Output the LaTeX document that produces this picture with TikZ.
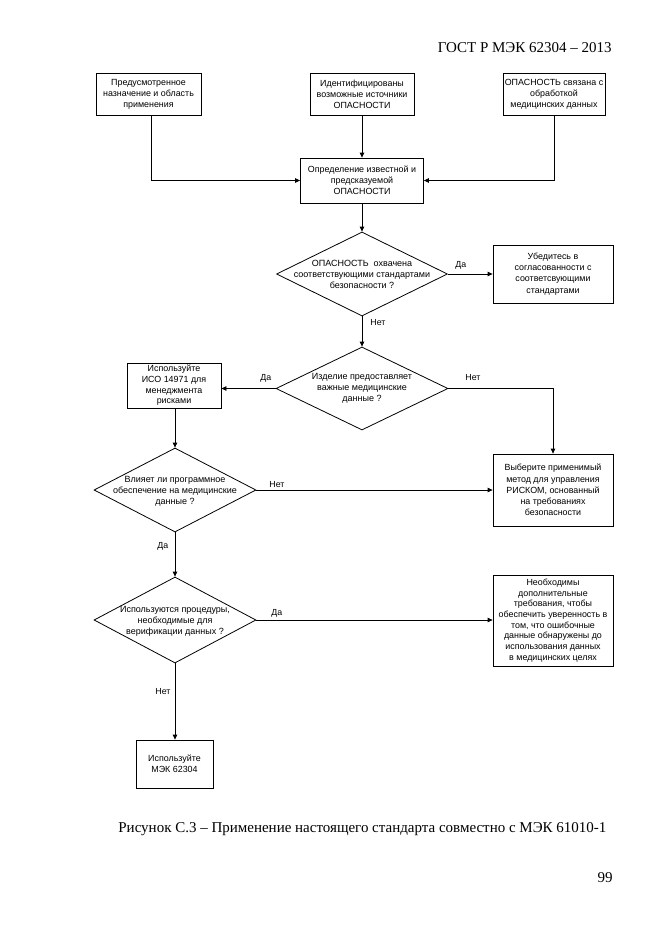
\documentclass[tikz,border=0pt]{standalone}
\usepackage{fontspec}
\setmainfont{Liberation Serif}
\newfontfamily\arialf{Liberation Sans}
\usetikzlibrary{arrows.meta,shapes.geometric}
\begin{document}
\begin{tikzpicture}[x=1pt,y=-1pt,
  every path/.style={line width=0.8pt},
  fbox/.style={draw, line width=0.8pt, align=center, inner sep=1pt,
    font=\arialf\fontsize{8.9}{11.2}\selectfont},
  diam/.style={draw, line width=0.8pt, diamond, inner sep=0pt},
  dtext/.style={align=center, inner sep=0pt, font=\arialf\fontsize{9}{11}\selectfont},
  lbl/.style={inner sep=0pt, font=\arialf\fontsize{8.8}{10}\selectfont},
  conn/.style={-{Triangle[length=5pt,width=4.5pt]}, line width=0.8pt},
  serift/.style={inner sep=0pt, font=\fontsize{15}{18}\selectfont}]
\useasboundingbox (0,0) rectangle (661,935);
\fill[white] (0,0) rectangle (661,935);

% header, caption, page number
\node[serift, anchor=base east] (hdr) at (612,52) {ГОСТ Р МЭК 62304 – 2013};
\node[serift, anchor=base west] (cap) at (118,832) {Рисунок С.3 – Применение настоящего стандарта совместно с МЭК 61010-1};
\node[serift, anchor=base east] (pg) at (613,882) {99};

% top boxes
\node[fbox, minimum width=105, minimum height=42] (b1) at (148.5,94.5) {Предусмотренное\\назначение и область\\применения};
\node[fbox, minimum width=104, minimum height=42] (b2) at (362,94.5) {Идентифицированы\\возможные источники\\ОПАСНОСТИ};
\node[fbox, minimum width=102, minimum height=42] (b3) at (554,94.5) {ОПАСНОСТЬ связана с\\обработкой\\медицинских данных};
\node[fbox, minimum width=123, minimum height=45] (bc) at (362,180.5) {Определение известной и\\предсказуемой\\ОПАСНОСТИ};

% decision 1
\node[diam, minimum width=171, minimum height=84] (d1) at (362,274) {};
\node[dtext] (t1) at (362,274.5) {ОПАСНОСТЬ\ \ охвачена\\соответствующими стандартами\\безопасности ?};
\node[fbox, minimum width=120, minimum height=58] (bu) at (553,274) {Убедитесь в\\согласованности с\\соответсвующими\\стандартами};

% decision 2
\node[diam, minimum width=172, minimum height=83] (d2) at (362,388.5) {};
\node[dtext] (t2) at (362,388.5) {Изделие предоставляет\\важные медицинские\\данные ?};
\node[fbox, minimum width=94, minimum height=45, font=\arialf\fontsize{8.9}{10.6}\selectfont] (biso) at (174,385.5) {Используйте\\ИСО 14971 для\\менеджмента\\рисками};
\node[fbox, minimum width=120, minimum height=72] (bv) at (553,490) {Выберите применимый\\метод для управления\\РИСКОМ, основанный\\на требованиях\\безопасности};

% decision 3
\node[diam, minimum width=162, minimum height=84] (d3) at (175,490) {};
\node[dtext] (t3) at (175,491) {Влияет ли программное\\обеспечение на медицинские\\данные ?};

% decision 4
\node[diam, minimum width=162, minimum height=86] (d4) at (175,620) {};
\node[dtext] (t4) at (175,621) {Используются процедуры,\\необходимые для\\верификации данных ?};
\node[fbox, minimum width=120, minimum height=91, font=\arialf\fontsize{8.9}{10.7}\selectfont] (bn) at (553,620.5) {Необходимы\\дополнительные\\требования, чтобы\\обеспечить уверенность в\\том, что ошибочные\\данные обнаружены до\\использования данных\\в медицинских целях};
\node[fbox, minimum width=77, minimum height=48] (bm) at (174.5,764) {Используйте\\МЭК 62304};

% connectors
\draw[conn] (b1.south -| 151,0) |- (bc.west);
\draw[conn] (b2.south) -- (bc.north);
\draw[conn] (b3.south) |- (bc.east);
\draw[conn] (bc.south) -- (d1.north);
\draw[conn] (d1.east) -- (bu.west);
\draw[conn] (d1.south) -- (d2.north);
\draw[conn] (d2.west) -- (d2.west -| biso.east);
\draw[conn] (d2.east) -| (bv.north);
\draw[conn] (biso.south -| d3.north) -- (d3.north);
\draw[conn] (d3.east) -- (d3.east -| bv.west);
\draw[conn] (d3.south) -- (d4.north);
\draw[conn] (d4.east) -- (d4.east -| bn.west);
\draw[conn] (d4.south) -- (d4.south |- bm.north);

% labels
\node[lbl, anchor=base west] (l1) at (455,267) {Да};
\node[lbl, anchor=base west] (l2) at (370,325) {Нет};
\node[lbl, anchor=base west] (l3) at (260,380) {Да};
\node[lbl, anchor=base west] (l4) at (465,380) {Нет};
\node[lbl, anchor=base west] (l5) at (269,487) {Нет};
\node[lbl, anchor=base west] (l6) at (157,548) {Да};
\node[lbl, anchor=base west] (l7) at (271,615) {Да};
\node[lbl, anchor=base west] (l8) at (155,694) {Нет};
\end{tikzpicture}
\end{document}
